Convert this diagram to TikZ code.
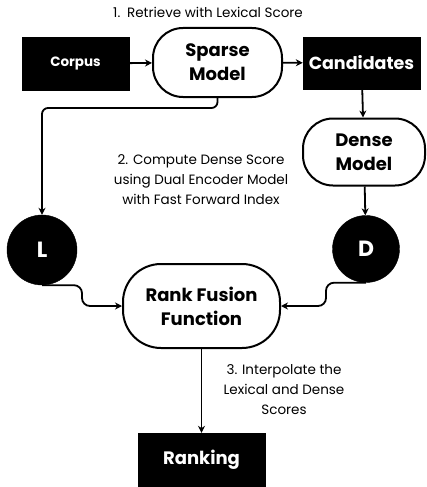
\documentclass[tikz,border=0pt]{standalone}
\usepackage{fontspec}
\setmainfont{Poppins}
\usetikzlibrary{arrows.meta, positioning}

\begin{document}
\begin{tikzpicture}[
    x=1pt, y=-1pt,
    % Node styles
    blackbox/.style={rectangle, draw=black, fill=black, text=white, font=\bfseries, align=center},
    model/.style={rectangle, draw=black, line width=2pt, fill=white, rounded corners=30pt, align=center, font=\bfseries\fontsize{18}{24}\selectfont},
    score/.style={circle, draw=black, fill=black, text=white, font=\bfseries\fontsize{22}{24}\selectfont},
    note/.style={align=center, font=\fontsize{13.5}{20}\selectfont},
    arrow/.style={-{Stealth[length=7pt, width=7pt]}, line width=1.8pt},
]
\useasboundingbox (0,0) rectangle (426,487);

% ============================================================================
% STEP 1: LEXICAL RETRIEVAL
% ============================================================================
\node[note] (step1) at (208,12) {1.\enspace Retrieve with Lexical Score};

\node[blackbox, minimum width=107pt, minimum height=53pt, font=\bfseries\fontsize{13.5}{14}\selectfont] (corpus) at (75.5,63.5) {Corpus};
\node[model, minimum width=129pt, minimum height=69pt] (sparse) at (217.5,62.5) {Sparse\\Model};
\node[blackbox, minimum width=117pt, minimum height=52pt, inner sep=0pt, font=\bfseries\fontsize{17.5}{20}\selectfont] (cand) at (361.5,63) {Candidates};

\draw[arrow] (corpus) -- (sparse);
\draw[arrow] (sparse) -- (cand);

% ============================================================================
% STEP 2: DENSE SCORING
% ============================================================================
\node[model, minimum width=122pt, minimum height=67pt] (dense) at (364,152) {Dense\\Model};
\draw[arrow] (cand) -- (dense);

\node[note] (step2) at (201,180) {2. Compute Dense Score\\using Dual Encoder Model\\with Fast Forward Index};

% Score nodes
\node[score, minimum size=70pt] (lex) at (42,250) {L};
\node[score, minimum size=67pt] (den) at (366,249) {D};

\draw[arrow] (dense) -- (den);
\draw[arrow, rounded corners=6pt] (sparse.south) -- ++(0,10) -| (lex.north);

% ============================================================================
% STEP 3: FUSION
% ============================================================================
\node[model, minimum width=157pt, minimum height=84pt, rounded corners=38pt] (fusion) at (201.5,306) {Rank Fusion\\Function};

\draw[arrow, rounded corners=8pt] (lex.south) -- ++(40,0) |- (fusion.west);
\draw[arrow, rounded corners=8pt] (den.south) -- ++(-40,0) |- (fusion.east);

\node[note] (step3) at (284,390) {3. Interpolate the\\Lexical and Dense\\Scores};

\node[blackbox, minimum width=127pt, minimum height=53pt, font=\bfseries\fontsize{18}{20}\selectfont] (rank) at (201.5,459.5) {Ranking};
\draw[arrow] (fusion) -- (rank);

\end{tikzpicture}
\end{document}
